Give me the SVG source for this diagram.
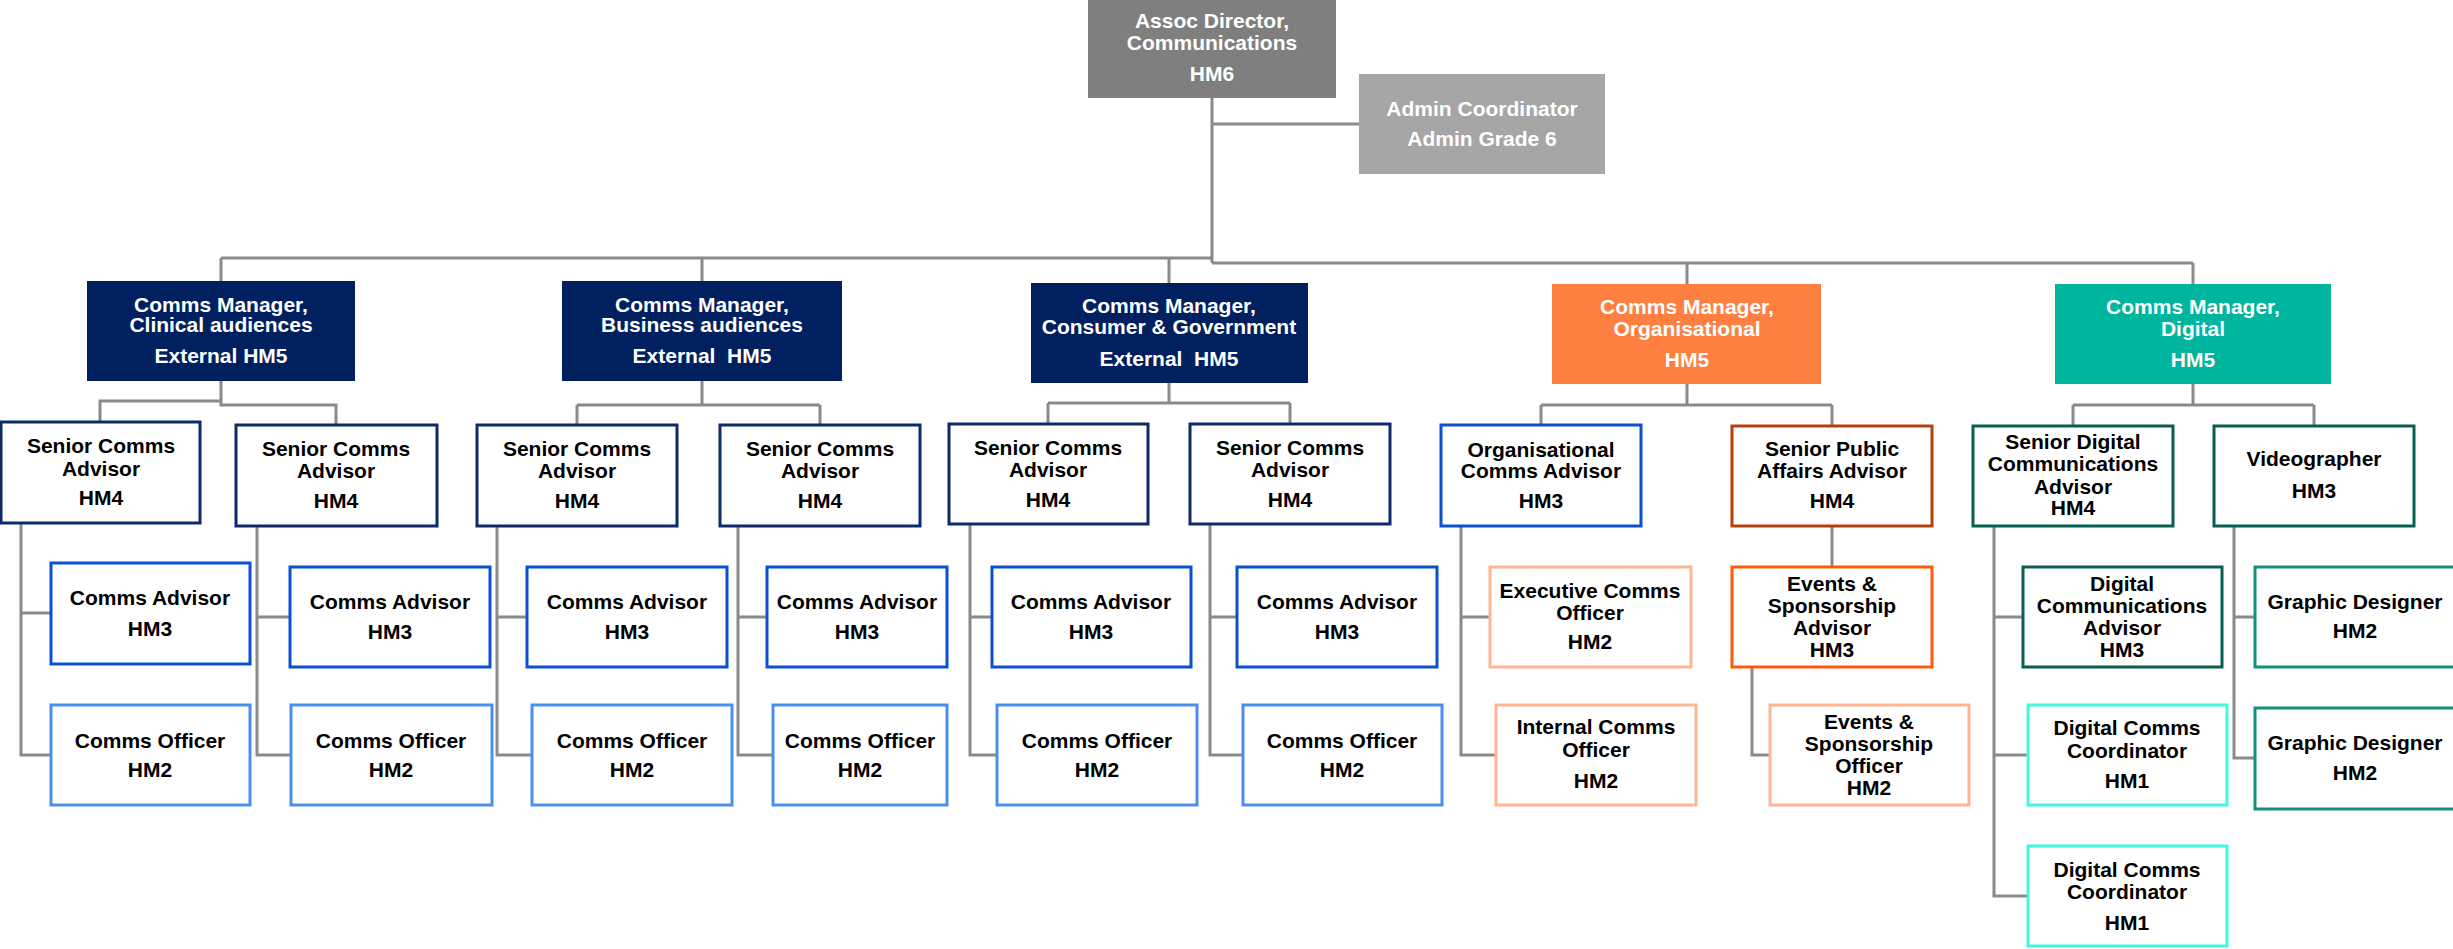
<svg xmlns="http://www.w3.org/2000/svg" width="2453" height="949" viewBox="0 0 2453 949">
<style>
text{font-family:"Liberation Sans",Arial,sans-serif;font-weight:bold;font-size:21px;text-anchor:middle;fill:#000}
.w text{fill:#fff}
.c path{fill:none;stroke:#8a8a8a;stroke-width:3}
rect{stroke-width:3}
.navy rect{fill:#002060;stroke:none}
.sr rect{fill:#fff;stroke:#0d2b6b}
.ca rect{fill:#fff;stroke:#0a50d0}
.co rect{fill:#fff;stroke:#4a8ff0}
.pe rect{fill:#fff;stroke:#ffb592}
.br rect{fill:#fff;stroke:#b5400c}
.or rect{fill:#fff;stroke:#ff5a0a}
.dt rect{fill:#fff;stroke:#0b5e52}
.gt rect{fill:#fff;stroke:#13917f}
.cy rect{fill:#fff;stroke:#40f8e4}
</style>
<rect width="2453" height="949" fill="#fff" style="stroke:none"/>
<g class="c" id="connectors">
<path d="M1212 98V263M1212 124H1359"/>
<path d="M221 258H1212M1212 263H2193"/>
<path d="M221 258V281M702 258V281M1169 258V283M1687 263V284M2193 263V284"/>
<path d="M221 381V401H100V422M221 401V405H336V425"/>
<path d="M702 381V405M577 405H820M577 405V425M820 405V425"/>
<path d="M1169 383V403M1048 403H1290M1048 403V424M1290 403V424"/>
<path d="M1687 384V405M1541 405H1832M1541 405V425M1832 405V426"/>
<path d="M2193 384V405M2073 405H2314M2073 405V426M2314 405V426"/>
<path d="M21 523V755H51M21 613H51"/>
<path d="M257 526V755H291M257 617H290"/>
<path d="M497 526V755H532M497 617H527"/>
<path d="M738 526V755H773M738 617H767"/>
<path d="M970 524V755H997M970 617H992"/>
<path d="M1210 524V755H1243M1210 617H1237"/>
<path d="M1461 526V755H1496M1461 617H1490"/>
<path d="M1832 526V567"/>
<path d="M1752 667V755H1770"/>
<path d="M1994 526V896H2028M1994 617H2023M1994 755H2028"/>
<path d="M2234 526V758H2255M2234 617H2255"/>
</g>
<g id="assoc" class="w"><rect x="1088" y="0" width="248" height="98" fill="#7f7f7f" style="stroke:none"/><text x="1212" y="28">Assoc Director,</text><text x="1212" y="50">Communications</text><text x="1212" y="81">HM6</text></g>
<g id="admin" class="w"><rect x="1359" y="74" width="246" height="100" fill="#a6a6a6" style="stroke:none"/><text x="1482" y="116">Admin Coordinator</text><text x="1482" y="146">Admin Grade 6</text></g>
<g id="m-clinical" class="w navy"><rect x="87" y="281" width="268" height="100"/><text x="221" y="312">Comms Manager,</text><text x="221" y="332">Clinical audiences</text><text x="221" y="363">External HM5</text></g>
<g id="m-business" class="w navy"><rect x="562" y="281" width="280" height="100"/><text x="702" y="312">Comms Manager,</text><text x="702" y="332">Business audiences</text><text x="702" y="363" xml:space="preserve">External  HM5</text></g>
<g id="m-consumer" class="w navy"><rect x="1031" y="283" width="277" height="100"/><text x="1169" y="313">Comms Manager,</text><text x="1169" y="334">Consumer &amp; Government</text><text x="1169" y="366" xml:space="preserve">External  HM5</text></g>
<g id="m-org" class="w"><rect x="1552" y="284" width="269" height="100" fill="#ff7f41" style="stroke:none"/><text x="1687" y="314">Comms Manager,</text><text x="1687" y="336">Organisational</text><text x="1687" y="367">HM5</text></g>
<g id="m-digital" class="w"><rect x="2055" y="284" width="276" height="100" fill="#00b59d" style="stroke:none"/><text x="2193" y="314">Comms Manager,</text><text x="2193" y="336">Digital</text><text x="2193" y="367">HM5</text></g>
<g id="s1" class="sr"><rect x="1" y="422" width="199" height="101"/><text x="101" y="453">Senior Comms</text><text x="101" y="476">Advisor</text><text x="101" y="505">HM4</text></g>
<g id="s2" class="sr"><rect x="236" y="425" width="201" height="101"/><text x="336" y="456">Senior Comms</text><text x="336" y="478">Advisor</text><text x="336" y="508">HM4</text></g>
<g id="s3" class="sr"><rect x="477" y="425" width="200" height="101"/><text x="577" y="456">Senior Comms</text><text x="577" y="478">Advisor</text><text x="577" y="508">HM4</text></g>
<g id="s4" class="sr"><rect x="720" y="425" width="200" height="101"/><text x="820" y="456">Senior Comms</text><text x="820" y="478">Advisor</text><text x="820" y="508">HM4</text></g>
<g id="s5" class="sr"><rect x="949" y="424" width="199" height="100"/><text x="1048" y="455">Senior Comms</text><text x="1048" y="477">Advisor</text><text x="1048" y="507">HM4</text></g>
<g id="s6" class="sr"><rect x="1190" y="424" width="200" height="100"/><text x="1290" y="455">Senior Comms</text><text x="1290" y="477">Advisor</text><text x="1290" y="507">HM4</text></g>
<g id="oca" class="ca"><rect x="1441" y="425" width="200" height="101"/><text x="1541" y="457">Organisational</text><text x="1541" y="478">Comms Advisor</text><text x="1541" y="508">HM3</text></g>
<g id="spa" class="br"><rect x="1732" y="426" width="200" height="100"/><text x="1832" y="456">Senior Public</text><text x="1832" y="478">Affairs Advisor</text><text x="1832" y="508">HM4</text></g>
<g id="sdca" class="dt"><rect x="1973" y="426" width="200" height="100"/><text x="2073" y="449">Senior Digital</text><text x="2073" y="471">Communications</text><text x="2073" y="494">Advisor</text><text x="2073" y="515">HM4</text></g>
<g id="video" class="dt"><rect x="2214" y="426" width="200" height="100"/><text x="2314" y="466">Videographer</text><text x="2314" y="498">HM3</text></g>
<g id="ca1" class="ca"><rect x="51" y="563" width="199" height="101"/><text x="150" y="605">Comms Advisor</text><text x="150" y="636">HM3</text></g>
<g id="ca2" class="ca"><rect x="290" y="567" width="200" height="100"/><text x="390" y="609">Comms Advisor</text><text x="390" y="639">HM3</text></g>
<g id="ca3" class="ca"><rect x="527" y="567" width="200" height="100"/><text x="627" y="609">Comms Advisor</text><text x="627" y="639">HM3</text></g>
<g id="ca4" class="ca"><rect x="767" y="567" width="180" height="100"/><text x="857" y="609">Comms Advisor</text><text x="857" y="639">HM3</text></g>
<g id="ca5" class="ca"><rect x="992" y="567" width="199" height="100"/><text x="1091" y="609">Comms Advisor</text><text x="1091" y="639">HM3</text></g>
<g id="ca6" class="ca"><rect x="1237" y="567" width="200" height="100"/><text x="1337" y="609">Comms Advisor</text><text x="1337" y="639">HM3</text></g>
<g id="exec" class="pe"><rect x="1490" y="567" width="201" height="100"/><text x="1590" y="598">Executive Comms</text><text x="1590" y="620">Officer</text><text x="1590" y="649">HM2</text></g>
<g id="esa" class="or"><rect x="1732" y="567" width="200" height="100"/><text x="1832" y="591">Events &amp;</text><text x="1832" y="613">Sponsorship</text><text x="1832" y="635">Advisor</text><text x="1832" y="657">HM3</text></g>
<g id="dca" class="dt"><rect x="2023" y="567" width="199" height="100"/><text x="2122" y="591">Digital</text><text x="2122" y="613">Communications</text><text x="2122" y="635">Advisor</text><text x="2122" y="657">HM3</text></g>
<g id="gd1" class="gt"><rect x="2255" y="567" width="200" height="100"/><text x="2355" y="609">Graphic Designer</text><text x="2355" y="638">HM2</text></g>
<g id="co1" class="co"><rect x="51" y="705" width="199" height="100"/><text x="150" y="748">Comms Officer</text><text x="150" y="777">HM2</text></g>
<g id="co2" class="co"><rect x="291" y="705" width="201" height="100"/><text x="391" y="748">Comms Officer</text><text x="391" y="777">HM2</text></g>
<g id="co3" class="co"><rect x="532" y="705" width="200" height="100"/><text x="632" y="748">Comms Officer</text><text x="632" y="777">HM2</text></g>
<g id="co4" class="co"><rect x="773" y="705" width="174" height="100"/><text x="860" y="748">Comms Officer</text><text x="860" y="777">HM2</text></g>
<g id="co5" class="co"><rect x="997" y="705" width="200" height="100"/><text x="1097" y="748">Comms Officer</text><text x="1097" y="777">HM2</text></g>
<g id="co6" class="co"><rect x="1243" y="705" width="199" height="100"/><text x="1342" y="748">Comms Officer</text><text x="1342" y="777">HM2</text></g>
<g id="internal" class="pe"><rect x="1496" y="705" width="200" height="100"/><text x="1596" y="734">Internal Comms</text><text x="1596" y="757">Officer</text><text x="1596" y="788">HM2</text></g>
<g id="eso" class="pe"><rect x="1770" y="705" width="199" height="100"/><text x="1869" y="729">Events &amp;</text><text x="1869" y="751">Sponsorship</text><text x="1869" y="773">Officer</text><text x="1869" y="795">HM2</text></g>
<g id="dcc1" class="cy"><rect x="2028" y="705" width="199" height="100"/><text x="2127" y="735">Digital Comms</text><text x="2127" y="758">Coordinator</text><text x="2127" y="788">HM1</text></g>
<g id="gd2" class="gt"><rect x="2255" y="708" width="200" height="101"/><text x="2355" y="750">Graphic Designer</text><text x="2355" y="780">HM2</text></g>
<g id="dcc2" class="cy"><rect x="2028" y="846" width="199" height="100"/><text x="2127" y="877">Digital Comms</text><text x="2127" y="899">Coordinator</text><text x="2127" y="930">HM1</text></g>
</svg>
